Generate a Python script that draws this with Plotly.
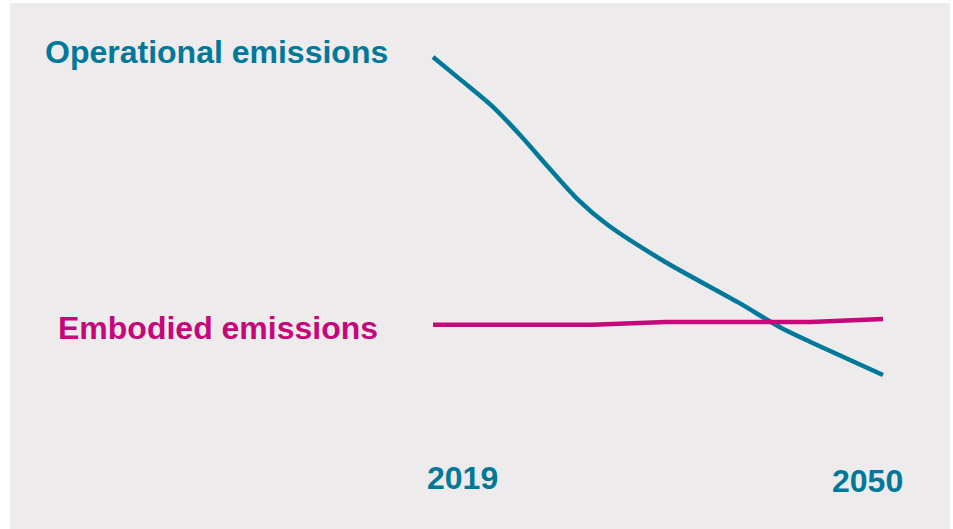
import plotly.graph_objects as go

# Emissions trajectories, index units (operational 2019 = 100)
op_years = [2019, 2021, 2023, 2025, 2027, 2029, 2031, 2035, 2040, 2043, 2045, 2050]
operational = [100.0, 94.0, 87.9, 80.4, 72.1, 64.1, 57.9, 48.5, 38.4, 31.9, 28.4, 20.1]

emb_years = [2019, 2030, 2035, 2045, 2050]
embodied = [32.7, 32.7, 33.4, 33.4, 34.2]

year_labels = ["2019", "2050"]

TEAL = "#00789A"
MAGENTA = "#C6077A"
PANEL = "#EEEBEC"
FONT = "Liberation Sans, Arial, sans-serif"

W, H = 953, 529

fig = go.Figure()
fig.add_trace(go.Scatter(
    x=op_years, y=operational, mode="lines",
    line=dict(color=TEAL, width=4.5, shape="spline", smoothing=0.7),
    hoverinfo="skip",
))
fig.add_trace(go.Scatter(
    x=emb_years, y=embodied, mode="lines",
    line=dict(color=MAGENTA, width=4.5),
    hoverinfo="skip",
))

# pixel -> paper helpers for the label layer
def px(x):
    return x / W

def py(y):
    return 1 - y / H

# background panel
fig.add_shape(type="rect", xref="paper", yref="paper",
              x0=px(10), x1=px(950), y0=py(529), y1=py(3),
              fillcolor=PANEL, line=dict(width=0), layer="below")

label_font = dict(family=FONT, size=32, color=TEAL)
annotations = [
    dict(text="<b>Operational emissions</b>", x=px(43), y=py(52),
         font=label_font),
    dict(text="<b>Embodied emissions</b>", x=px(56), y=py(328),
         font=dict(family=FONT, size=32, color=MAGENTA)),
    dict(text="<b>%s</b>" % year_labels[0], x=px(425), y=py(478),
         font=label_font),
    dict(text="<b>%s</b>" % year_labels[1], x=px(830), y=py(481),
         font=label_font),
]
for a in annotations:
    a.update(xref="paper", yref="paper", xanchor="left", yanchor="middle",
             showarrow=False)

# axis ranges put 2019 at x=433 px, 2050 at x=883 px
ppy = (883 - 433) / (2050 - 2019)
x0 = 2019 - 433 / ppy
x1 = x0 + W / ppy
ppv = 3.98
y_top = 455 / ppv
y_bot = (455 - H) / ppv

fig.update_layout(
    width=W, height=H,
    margin=dict(l=0, r=0, t=0, b=0),
    paper_bgcolor="white",
    plot_bgcolor="rgba(0,0,0,0)",
    showlegend=False,
    annotations=annotations,
    xaxis=dict(range=[x0, x1], visible=False, fixedrange=True),
    yaxis=dict(range=[y_bot, y_top], visible=False, fixedrange=True),
)

fig.write_html("out.html", config={"displayModeBar": False})
